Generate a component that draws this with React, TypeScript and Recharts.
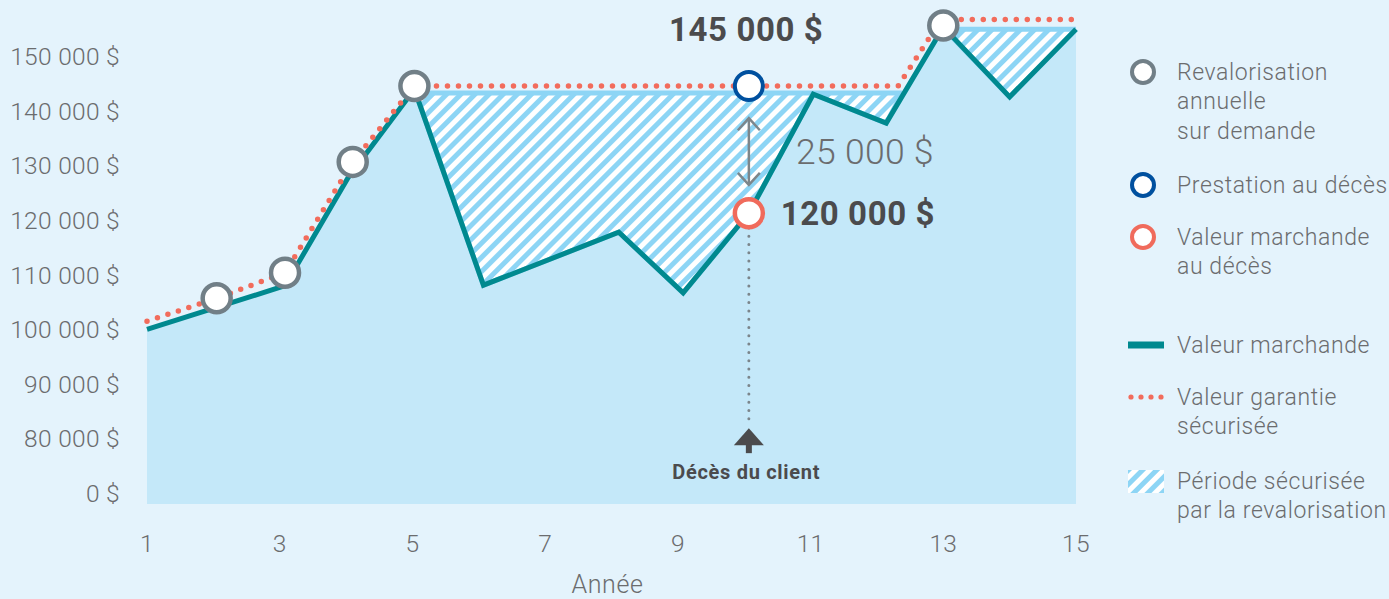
import React from "react";
import {
  ComposedChart,
  Area,
  Line,
  Scatter,
  XAxis,
  YAxis,
  ReferenceLine,
  ReferenceDot,
} from "recharts";

// x = année (read off the picture, so not always whole years), v = value in $
const valeurMarchande = [
  { x: 1, v: 100000 },
  { x: 3.08, v: 108000 },
  { x: 4.03, v: 127800 },
  { x: 5.03, v: 144000 },
  { x: 6.07, v: 108100 },
  { x: 8.11, v: 117800 },
  { x: 9.08, v: 106700 },
  { x: 10.07, v: 121300 },
  { x: 11.04, v: 143100 },
  { x: 12.14, v: 137800 },
  { x: 13, v: 155400 },
  { x: 14, v: 142600 },
  { x: 15, v: 155000 },
];

const valeurGarantie = [
  { x: 1, v: 101500 },
  { x: 2.05, v: 105700 },
  { x: 3.08, v: 110400 },
  { x: 4.1, v: 130700 },
  { x: 5.03, v: 144600 },
  { x: 12.32, v: 144600 },
  { x: 12.97, v: 156800 },
  { x: 15, v: 156800 },
];

// hatched zones: [bas, haut]
const periodeA = [
  { x: 5.05, range: [143300, 143300] },
  { x: 6.07, range: [108100, 143300] },
  { x: 8.11, range: [117800, 143300] },
  { x: 9.08, range: [106700, 143300] },
  { x: 10.07, range: [121300, 143300] },
  { x: 11.04, range: [143100, 143300] },
  { x: 12.14, range: [137800, 143300] },
  { x: 12.38, range: [143300, 143300] },
];
const periodeB = [
  { x: 13.02, range: [155000, 155000] },
  { x: 14, range: [142600, 155000] },
  { x: 15, range: [155000, 155000] },
];

const revalorisations = [
  { x: 2.05, v: 105700 },
  { x: 3.08, v: 110400 },
  { x: 4.1, v: 130700 },
  { x: 5.03, v: 144600 },
  { x: 13, v: 155700 },
];
const prestationDeces = [{ x: 10.07, v: 144600 }];
const valeurAuDeces = [{ x: 10.07, v: 121300 }];

const xTicks = [1, 3, 5, 7, 9, 11, 13, 15];
const yTicks = [70000, 80000, 90000, 100000, 110000, 120000, 130000, 140000, 150000];
const AXE_ZERO = 70000; // the axis is broken, this position is labelled "0 $"

const DECES = 10.07;

const FONT = "Roboto, 'Noto Sans', sans-serif";
const GRIS_TEXTE = "#6b6c6e";
const FONCE = "#4b4b4d";
const TEAL = "#00898f";
const ROUGE = "#f26c5c";
const BLEU_HACHURE = "#8dd5f5";

const fmt = (v: number) => (v === AXE_ZERO ? "0 $" : `${v / 1000} 000 $`);

const tickStyle = { fill: GRIS_TEXTE, fontSize: 24.5, fontWeight: 300, fontFamily: FONT, letterSpacing: 0.3 };

const ring = (stroke: string, sw = 4) => (p: any) => (
  <circle cx={p.cx} cy={p.cy} r={14} fill="#ffffff" stroke={stroke} strokeWidth={sw} />
);

const legendItems = [
  { kind: "ring", color: "#717f87", y: 72, lines: ["Revalorisation", "annuelle", "sur demande"] },
  { kind: "ring", color: "#00509f", y: 185, lines: ["Prestation au décès"] },
  { kind: "ring", color: "#f06b5c", y: 237, lines: ["Valeur marchande", "au décès"] },
  { kind: "line", color: TEAL, y: 345, lines: ["Valeur marchande"] },
  { kind: "dots", color: ROUGE, y: 397, lines: ["Valeur garantie", "sécurisée"] },
  { kind: "hatch", color: BLEU_HACHURE, y: 481, lines: ["Période sécurisée", "par la revalorisation"] },
];

function Legende() {
  const L = 1100;
  return (
    <svg width={289} height={599} style={{ position: "absolute", left: L, top: 0 }}>
      <defs>
        <pattern id="hatchLeg" patternUnits="userSpaceOnUse" width="10" height="10" patternTransform="rotate(45)">
          <rect width="10" height="10" fill="#ffffff" />
          <rect width="5" height="10" fill={BLEU_HACHURE} />
        </pattern>
      </defs>
      {legendItems.map((it, i) => (
        <g key={i}>
          {it.kind === "ring" && (
            <circle cx={1143 - L} cy={it.y} r={11} fill="#fff" stroke={it.color} strokeWidth={4} />
          )}
          {it.kind === "line" && <rect x={1128 - L} y={it.y - 3.5} width={36} height={7} fill={it.color} />}
          {it.kind === "dots" &&
            [0, 1, 2, 3].map((k) => <circle key={k} cx={1131 - L + k * 10} cy={it.y} r={2.6} fill={it.color} />)}
          {it.kind === "hatch" && (
            <rect x={1128 - L} y={it.y - 11} width={36} height={23} fill="url(#hatchLeg)" />
          )}
          {it.lines.map((t, j) => (
            <text
              key={j}
              x={1177 - L}
              y={it.y + j * 29.5}
              dominantBaseline="central"
              fill={GRIS_TEXTE}
              fontSize={23}
              fontWeight={300}
              letterSpacing={0.6}
              fontFamily={FONT}
            >
              {t}
            </text>
          ))}
        </g>
      ))}
    </svg>
  );
}

export default function App() {
  return (
    <div style={{ position: "absolute", left: 0, top: 0, width: 1389, height: 599, background: "#e4f3fc" }}>
      <ComposedChart width={1389} height={599} margin={{ top: 2, right: 313, bottom: 0, left: 0 }}>
        <defs>
          <pattern id="hatch" patternUnits="userSpaceOnUse" width="10" height="10" patternTransform="rotate(45)">
            <rect width="10" height="10" fill="#ffffff" />
            <rect width="5" height="10" fill={BLEU_HACHURE} />
          </pattern>
        </defs>
        <XAxis
          type="number"
          dataKey="x"
          domain={[1, 15]}
          ticks={xTicks}
          height={95}
          axisLine={false}
          tickLine={false}
          tickSize={0}
          tickMargin={31}
          tick={tickStyle}
          label={{
            value: "Année",
            position: "insideBottom",
            offset: 6,
            fill: GRIS_TEXTE,
            fontSize: 25,
            fontWeight: 300,
            letterSpacing: 0.6,
            fontFamily: FONT,
            dx: -4,
          }}
        />
        <YAxis
          type="number"
          domain={[68000, 160000]}
          ticks={yTicks}
          width={147}
          axisLine={false}
          tickLine={false}
          tickSize={0}
          tickMargin={27}
          tickFormatter={fmt}
          tick={tickStyle}
        />
        <Area data={valeurMarchande} dataKey="v" baseValue="dataMin" fill="#c4e8f9" fillOpacity={1} stroke="none" isAnimationActive={false} />
        <Area data={periodeA} dataKey="range" fill="url(#hatch)" fillOpacity={1} stroke={BLEU_HACHURE} strokeWidth={5} isAnimationActive={false} />
        <Area data={periodeB} dataKey="range" fill="url(#hatch)" fillOpacity={1} stroke={BLEU_HACHURE} strokeWidth={5} isAnimationActive={false} />
        <Line data={valeurMarchande} dataKey="v" stroke={TEAL} strokeWidth={5} strokeLinejoin="miter" dot={false} isAnimationActive={false} />
        <Line
          data={valeurGarantie}
          dataKey="v"
          stroke={ROUGE}
          strokeWidth={5.5}
          strokeDasharray="0 11"
          strokeLinecap="round"
          dot={false}
          isAnimationActive={false}
        />

        {/* death of the client: dotted drop line, double arrow and labels */}
        <ReferenceLine
          segment={[{ x: DECES, y: 118600 }, { x: DECES, y: 82900 }]}
          stroke="#7b858b"
          strokeWidth={3}
          strokeDasharray="0 8.3"
          strokeLinecap="round"
          ifOverflow="visible"
        />
        <ReferenceLine
          segment={[{ x: DECES, y: 138600 }, { x: DECES, y: 126600 }]}
          stroke="#7d868b"
          strokeWidth={2.5}
          ifOverflow="visible"
        />
        <ReferenceDot
          x={DECES}
          y={138700}
          ifOverflow="visible"
          shape={(p: any) => (
            <polyline points={`${p.cx - 11},${p.cy + 12} ${p.cx},${p.cy} ${p.cx + 11},${p.cy + 12}`} fill="none" stroke="#7d868b" strokeWidth={2.5} />
          )}
        />
        <ReferenceDot
          x={DECES}
          y={126500}
          ifOverflow="visible"
          shape={(p: any) => (
            <polyline points={`${p.cx - 11},${p.cy - 12} ${p.cx},${p.cy} ${p.cx + 11},${p.cy - 12}`} fill="none" stroke="#7d868b" strokeWidth={2.5} />
          )}
        />
        <ReferenceDot
          x={DECES}
          y={81900}
          ifOverflow="visible"
          shape={(p: any) => (
            <g fill={FONCE}>
              <polygon points={`${p.cx},${p.cy} ${p.cx + 15},${p.cy + 17} ${p.cx - 15},${p.cy + 17}`} />
              <rect x={p.cx - 3} y={p.cy + 16} width={6} height={9} />
            </g>
          )}
        />
        <ReferenceDot
          x={10.03}
          y={73860}
          ifOverflow="visible"
          shape={(p: any) => (
            <text x={p.cx} y={p.cy} textAnchor="middle" dominantBaseline="central" fill={FONCE} fontSize={20} fontWeight={700} letterSpacing={0.7} fontFamily={FONT}>
              Décès du client
            </text>
          )}
        />
        <ReferenceDot
          x={10.03}
          y={154870}
          ifOverflow="visible"
          shape={(p: any) => (
            <text x={p.cx} y={p.cy} textAnchor="middle" dominantBaseline="central" fill={FONCE} fontSize={33} fontWeight={700} letterSpacing={0.6} fontFamily={FONT}>
              145 000 $
            </text>
          )}
        />
        <ReferenceDot
          x={10.55}
          y={121330}
          ifOverflow="visible"
          shape={(p: any) => (
            <text x={p.cx} y={p.cy} dominantBaseline="central" fill={FONCE} fontSize={33} fontWeight={700} letterSpacing={0.6} fontFamily={FONT}>
              120 000 $
            </text>
          )}
        />
        <ReferenceDot
          x={10.78}
          y={132510}
          ifOverflow="visible"
          shape={(p: any) => (
            <text x={p.cx} y={p.cy} dominantBaseline="central" fill={GRIS_TEXTE} fontSize={35.5} fontWeight={300} letterSpacing={0.3} fontFamily={FONT}>
              25 000 $
            </text>
          )}
        />

        <Scatter data={revalorisations} dataKey="v" shape={ring("#717f87", 4.5)} isAnimationActive={false} />
        <Scatter data={prestationDeces} dataKey="v" shape={ring("#00509f", 4)} isAnimationActive={false} />
        <Scatter data={valeurAuDeces} dataKey="v" shape={ring("#f06b5c", 4.5)} isAnimationActive={false} />
      </ComposedChart>
      <Legende />
    </div>
  );
}
